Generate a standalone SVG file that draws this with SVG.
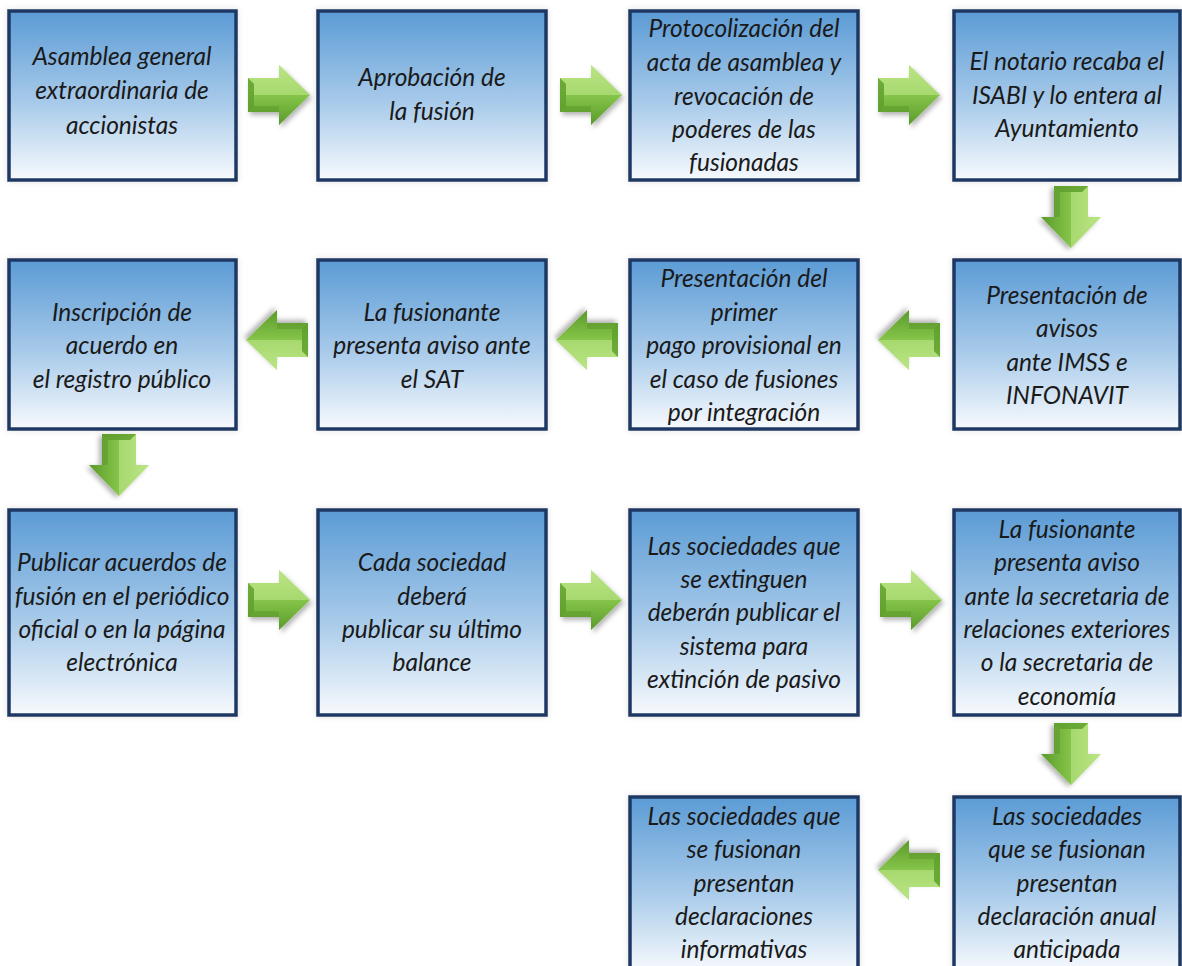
<svg xmlns="http://www.w3.org/2000/svg" width="1182" height="966" viewBox="0 0 1182 966">
<defs>
<linearGradient id="boxg" x1="0" y1="0" x2="0" y2="1">
<stop offset="0" stop-color="#5b9bd5"/>
<stop offset="0.55" stop-color="#a9cbea"/>
<stop offset="1" stop-color="#f7fafd"/>
</linearGradient>
<linearGradient id="arrg" x1="0" y1="0" x2="0" y2="1">
<stop offset="0" stop-color="#b0df74"/>
<stop offset="0.5" stop-color="#86c54a"/>
<stop offset="1" stop-color="#5a9a2a"/>
</linearGradient>
<filter id="sh" x="-30%" y="-30%" width="160%" height="160%">
<feDropShadow dx="2" dy="3" stdDeviation="2.5" flood-color="#000" flood-opacity="0.3"/>
</filter>
<filter id="bsh" x="-5%" y="-5%" width="110%" height="110%">
<feDropShadow dx="0" dy="0" stdDeviation="3" flood-color="#000" flood-opacity="0.12"/>
</filter>
<g id="arr">
<g filter="url(#sh)">
<polygon points="-31,-17 0,-17 0,-30 31,0 0,30 0,17 -31,17" fill="url(#arrg)"/>
</g>
<polygon points="-31,-17 0,-17 0,-30 31,0 22,0 -25,0 -25,-11" fill="#c2ea8f" opacity="0.55"/>
<polygon points="-31,-17 -25,-11 -25,11 -31,17" fill="#5a9a2a" opacity="0.7"/>
<polygon points="-25,11 0,11 0,17 -31,17" fill="#4f8c24" opacity="0.35"/>
</g>
</defs>
<style>
.box{fill:url(#boxg);stroke:#1f3864;stroke-width:3.5;filter:url(#bsh)}
.t{font-family:Lato,"Open Sans",sans-serif;font-style:italic;font-size:24.5px;fill:#1a1a1a;text-anchor:middle}
</style>
<rect width="1182" height="966" fill="#ffffff"/>

<g id="connectors">
<use href="#arr" x="279" y="95"/>
<use href="#arr" x="591" y="95"/>
<use href="#arr" x="909" y="95"/>
<use href="#arr" transform="translate(1071,217) rotate(90)"/>
<use href="#arr" transform="translate(909,340) rotate(180)"/>
<use href="#arr" transform="translate(587,340) rotate(180)"/>
<use href="#arr" transform="translate(277,340) rotate(180)"/>
<use href="#arr" transform="translate(119,465) rotate(90)"/>
<use href="#arr" x="279" y="600"/>
<use href="#arr" x="591" y="600"/>
<use href="#arr" x="911" y="600"/>
<use href="#arr" transform="translate(1071,754) rotate(90)"/>
<use href="#arr" transform="translate(909,870) rotate(180)"/>
</g>

<g id="n1"><rect class="box" x="9" y="11" width="227" height="169"/>
<text class="t" x="122"><tspan x="122" y="65">Asamblea general</tspan><tspan x="122" y="99">extraordinaria de</tspan><tspan x="122" y="134">accionistas</tspan></text></g>
<g id="n2"><rect class="box" x="318" y="11" width="228" height="169"/>
<text class="t"><tspan x="432" y="86">Aprobación de</tspan><tspan x="432" y="120">la fusión</tspan></text></g>
<g id="n3"><rect class="box" x="630" y="11" width="228" height="169"/>
<text class="t"><tspan x="744" y="37">Protocolización del</tspan><tspan x="744" y="71">acta de asamblea y</tspan><tspan x="744" y="105">revocación de</tspan><tspan x="744" y="138">poderes de las</tspan><tspan x="744" y="171">fusionadas</tspan></text></g>
<g id="n4"><rect class="box" x="954" y="11" width="226" height="169"/>
<text class="t"><tspan x="1067" y="70">El notario recaba el</tspan><tspan x="1067" y="104">ISABI y lo entera al</tspan><tspan x="1067" y="137">Ayuntamiento</tspan></text></g>

<g id="n5"><rect class="box" x="954" y="260" width="226" height="169"/>
<text class="t"><tspan x="1067" y="304">Presentación de</tspan><tspan x="1067" y="337">avisos</tspan><tspan x="1067" y="371">ante IMSS e</tspan><tspan x="1067" y="404">INFONAVIT</tspan></text></g>
<g id="n6"><rect class="box" x="630" y="260" width="228" height="169"/>
<text class="t"><tspan x="744" y="287">Presentación del</tspan><tspan x="744" y="321">primer</tspan><tspan x="744" y="354">pago provisional en</tspan><tspan x="744" y="388">el caso de fusiones</tspan><tspan x="744" y="421">por integración</tspan></text></g>
<g id="n7"><rect class="box" x="318" y="260" width="228" height="169"/>
<text class="t"><tspan x="432" y="321">La fusionante</tspan><tspan x="432" y="354">presenta aviso ante</tspan><tspan x="432" y="388">el SAT</tspan></text></g>
<g id="n8"><rect class="box" x="9" y="260" width="227" height="169"/>
<text class="t"><tspan x="122" y="321">Inscripción de</tspan><tspan x="122" y="354">acuerdo en</tspan><tspan x="122" y="388">el registro público</tspan></text></g>

<g id="n9"><rect class="box" x="9" y="510" width="227" height="205"/>
<text class="t"><tspan x="122" y="571">Publicar acuerdos de</tspan><tspan x="122" y="605">fusión en el periódico</tspan><tspan x="122" y="638">oficial o en la página</tspan><tspan x="122" y="671">electrónica</tspan></text></g>
<g id="n10"><rect class="box" x="318" y="510" width="228" height="205"/>
<text class="t"><tspan x="432" y="571">Cada sociedad</tspan><tspan x="432" y="605">deberá</tspan><tspan x="432" y="638">publicar su último</tspan><tspan x="432" y="671">balance</tspan></text></g>
<g id="n11"><rect class="box" x="630" y="510" width="228" height="205"/>
<text class="t"><tspan x="744" y="555">Las sociedades que</tspan><tspan x="744" y="588">se extinguen</tspan><tspan x="744" y="621">deberán publicar el</tspan><tspan x="744" y="655">sistema para</tspan><tspan x="744" y="688">extinción de pasivo</tspan></text></g>
<g id="n12"><rect class="box" x="954" y="510" width="226" height="205"/>
<text class="t"><tspan x="1067" y="538">La fusionante</tspan><tspan x="1067" y="571">presenta aviso</tspan><tspan x="1067" y="605">ante la secretaria de</tspan><tspan x="1067" y="638">relaciones exteriores</tspan><tspan x="1067" y="671">o la secretaria de</tspan><tspan x="1067" y="705">economía</tspan></text></g>

<g id="n13"><rect class="box" x="954" y="797" width="226" height="175"/>
<text class="t"><tspan x="1067" y="825">Las sociedades</tspan><tspan x="1067" y="858">que se fusionan</tspan><tspan x="1067" y="892">presentan</tspan><tspan x="1067" y="925">declaración anual</tspan><tspan x="1067" y="958">anticipada</tspan></text></g>
<g id="n14"><rect class="box" x="630" y="797" width="228" height="175"/>
<text class="t"><tspan x="744" y="825">Las sociedades que</tspan><tspan x="744" y="858">se fusionan</tspan><tspan x="744" y="892">presentan</tspan><tspan x="744" y="925">declaraciones</tspan><tspan x="744" y="958">informativas</tspan></text></g>
</svg>
